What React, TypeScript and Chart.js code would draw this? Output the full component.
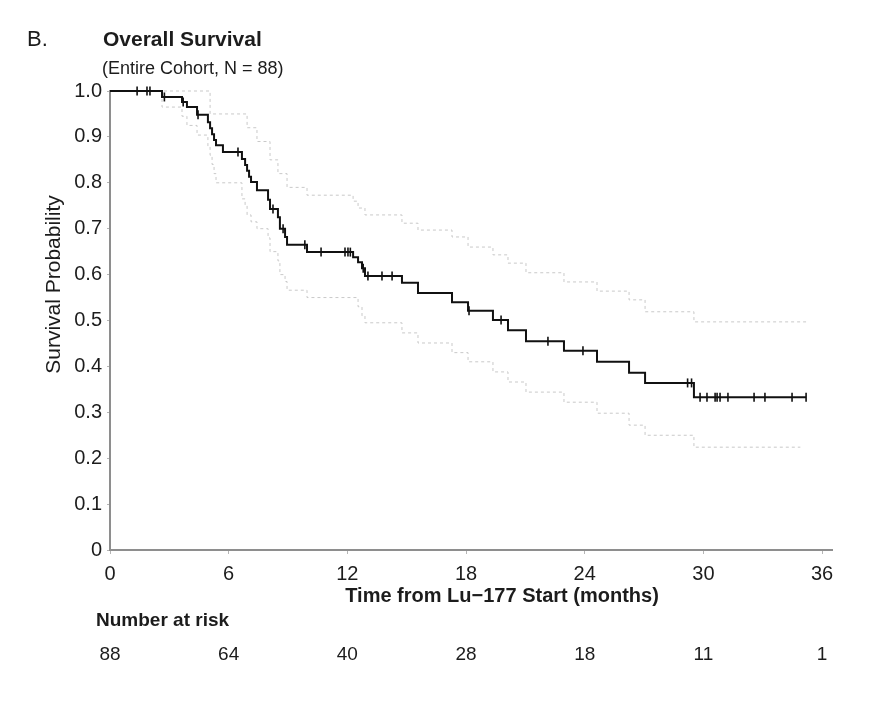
import React, { useEffect, useRef } from "react";
import { Chart, registerables } from "chart.js";

Chart.register(...registerables);

// Kaplan–Meier estimate: event times (months) and survival after each step
const kmTimes = [0, 2.63, 3.64, 3.89, 4.4, 4.95, 5.06, 5.16, 5.26, 5.36, 5.71, 6.67, 6.83, 6.93, 7.03, 7.13, 7.43, 7.99, 8.09, 8.49, 8.59, 8.85, 8.95, 9.96, 12.29, 12.54, 12.74, 12.89, 14.76, 15.57, 17.29, 18.1, 19.36, 20.12, 21.03, 22.95, 24.62, 26.24, 27.05, 29.52, 35.19];
const kmSurv = [1.0, 0.987, 0.976, 0.965, 0.948, 0.932, 0.919, 0.906, 0.893, 0.882, 0.867, 0.852, 0.839, 0.826, 0.813, 0.802, 0.784, 0.763, 0.743, 0.725, 0.7, 0.682, 0.665, 0.649, 0.638, 0.627, 0.614, 0.597, 0.582, 0.56, 0.54, 0.521, 0.501, 0.479, 0.455, 0.434, 0.41, 0.386, 0.364, 0.333, 0.333];

// Censored observations (months)
const censorTimes = [1.37, 1.87, 2.02, 2.75, 3.7, 4.45, 6.47, 8.24, 8.75, 9.85, 10.67, 11.88, 12.03, 12.15, 12.8, 13.04, 13.75, 14.26, 18.15, 19.77, 22.14, 23.91, 29.2, 29.4, 29.83, 30.18, 30.59, 30.69, 30.84, 31.24, 32.56, 33.11, 34.48, 35.19];

// 95% confidence band
const ciUpTimes = [0, 5.06, 6.93, 7.43, 8.09, 8.49, 8.95, 9.96, 12.29, 12.54, 12.89, 14.76, 15.57, 17.29, 18.1, 19.36, 20.12, 21.03, 22.95, 24.62, 26.24, 27.05, 29.52, 35.19];
const ciUpVals = [1.0, 0.95, 0.92, 0.89, 0.85, 0.82, 0.79, 0.773, 0.76, 0.745, 0.73, 0.712, 0.697, 0.682, 0.66, 0.643, 0.625, 0.604, 0.584, 0.564, 0.545, 0.519, 0.497, 0.497];
const ciLoTimes = [0, 2.63, 3.64, 3.89, 4.4, 4.95, 5.06, 5.16, 5.26, 5.36, 6.67, 6.83, 6.93, 7.13, 7.43, 7.99, 8.09, 8.49, 8.59, 8.85, 8.95, 9.96, 12.54, 12.74, 12.89, 14.76, 15.57, 17.29, 18.1, 19.36, 20.12, 21.03, 22.95, 24.62, 26.24, 27.05, 29.52, 34.9];
const ciLoVals = [1.0, 0.965, 0.945, 0.925, 0.904, 0.88, 0.86, 0.84, 0.82, 0.8, 0.765, 0.75, 0.73, 0.715, 0.7, 0.68, 0.65, 0.63, 0.6, 0.585, 0.566, 0.55, 0.53, 0.51, 0.495, 0.473, 0.451, 0.43, 0.41, 0.388, 0.366, 0.344, 0.322, 0.298, 0.272, 0.25, 0.224, 0.224];

// Axis ticks and number-at-risk table
const xTicks = [0, 6, 12, 18, 24, 30, 36];
const yTicks = [0, 0.1, 0.2, 0.3, 0.4, 0.5, 0.6, 0.7, 0.8, 0.9, 1.0];
const riskTimes = [0, 6, 12, 18, 24, 30, 36];
const riskCounts = [88, 64, 40, 28, 18, 11, 1];

const FONT = "'Liberation Sans', Arial, Helvetica, sans-serif";
const AXIS_GREY = "#8e8e8e";
const INK = "#1c1c1c";

// survival level in effect at time t (step function lookup)
function survivalAt(t: number): number {
  let s = kmSurv[0];
  for (let i = 0; i < kmTimes.length; i++) {
    if (kmTimes[i] <= t) s = kmSurv[i];
  }
  return s;
}

const toPoints = (xs: number[], ys: number[]) => xs.map((x, i) => ({ x, y: ys[i] }));

const annotations = {
  id: "kmText",
  afterDraw(chart: any) {
    const { ctx, chartArea, scales } = chart;
    const xs = scales.x;
    ctx.save();
    ctx.fillStyle = INK;
    ctx.textBaseline = "middle";

    ctx.textAlign = "left";
    ctx.font = `22px ${FONT}`;
    ctx.fillText("B.", 27, 40);
    ctx.font = `bold 21px ${FONT}`;
    ctx.fillText("Overall Survival", 103, 40);
    ctx.font = `18px ${FONT}`;
    ctx.fillText("(Entire Cohort, N = 88)", 102, 69);

    // y-axis title
    ctx.save();
    ctx.translate(54, (chartArea.top + chartArea.bottom) / 2 - 36);
    ctx.rotate(-Math.PI / 2);
    ctx.textAlign = "center";
    ctx.font = `21px ${FONT}`;
    ctx.fillText("Survival Probability", 0, 0);
    ctx.restore();

    // x-axis title
    ctx.textAlign = "center";
    ctx.font = `bold 20px ${FONT}`;
    ctx.fillText("Time from Lu\u2212177 Start (months)", 502, chartArea.bottom + 46);

    // number at risk
    ctx.textAlign = "left";
    ctx.font = `bold 19px ${FONT}`;
    ctx.fillText("Number at risk", 96, chartArea.bottom + 71);
    ctx.textAlign = "center";
    ctx.font = `19px ${FONT}`;
    riskTimes.forEach((t, i) => {
      ctx.fillText(String(riskCounts[i]), xs.getPixelForValue(t), chartArea.bottom + 105);
    });
    ctx.restore();
  },
};

export default function App() {
  const canvasRef = useRef<HTMLCanvasElement | null>(null);

  useEffect(() => {
    document.body.style.margin = "0";
    const canvas = canvasRef.current;
    if (!canvas) return;

    const band = {
      borderColor: "#c9c9c9",
      borderWidth: 1,
      borderDash: [3, 3],
      pointRadius: 0,
      stepped: "before" as const,
      fill: false,
      clip: false as const,
      order: 3,
    };

    const chart = new Chart(canvas, {
      type: "line",
      data: {
        datasets: [
          {
            label: "Censored",
            data: censorTimes.map((t) => ({ x: t, y: survivalAt(t) })),
            showLine: false,
            pointStyle: "line",
            rotation: 90,
            pointRadius: 4.5,
            borderWidth: 1.6,
            borderColor: "#111111",
            backgroundColor: "#111111",
            clip: false,
            order: 1,
          },
          {
            label: "Overall survival",
            data: toPoints(kmTimes, kmSurv),
            borderColor: "#111111",
            borderWidth: 2,
            pointRadius: 0,
            stepped: "before",
            fill: false,
            clip: false,
            order: 2,
          },
          { ...band, label: "Upper 95% CI", data: toPoints(ciUpTimes, ciUpVals) },
          { ...band, label: "Lower 95% CI", data: toPoints(ciLoTimes, ciLoVals) },
        ],
      },
      options: {
        responsive: false,
        animation: false,
        devicePixelRatio: 1,
        layout: { padding: { left: 0, right: 40, top: 91, bottom: 0 } },
        plugins: {
          legend: { display: false },
          tooltip: { enabled: false },
        },
        scales: {
          x: {
            type: "linear",
            min: 0,
            max: 36.5,
            afterBuildTicks: (s: any) => {
              s.ticks = xTicks.map((v) => ({ value: v }));
            },
            afterFit: (s: any) => {
              s.height = 154;
            },
            border: { display: true, color: AXIS_GREY, width: 2 },
            grid: { drawOnChartArea: false, drawTicks: true, tickLength: 4, color: "#b5b5b5" },
            ticks: {
              autoSkip: false,
              maxRotation: 0,
              padding: 8,
              color: INK,
              font: { family: FONT, size: 20 },
              callback: (v: any) => String(v),
            },
          },
          y: {
            type: "linear",
            min: 0,
            max: 1,
            afterBuildTicks: (s: any) => {
              s.ticks = yTicks.map((v) => ({ value: v }));
            },
            afterFit: (s: any) => {
              s.width = 110;
            },
            border: { display: true, color: AXIS_GREY, width: 2 },
            grid: { drawOnChartArea: false, drawTicks: true, tickLength: 3, color: "#b5b5b5" },
            ticks: {
              padding: 5,
              color: INK,
              font: { family: FONT, size: 20 },
              callback: (v: any) => (Number(v) === 0 ? "0" : Number(v).toFixed(1)),
            },
          },
        },
      },
      plugins: [annotations],
    });

    return () => chart.destroy();
  }, []);

  return (
    <div style={{ width: 872, height: 704, background: "#ffffff" }}>
      <canvas ref={canvasRef} width={872} height={704} />
    </div>
  );
}
